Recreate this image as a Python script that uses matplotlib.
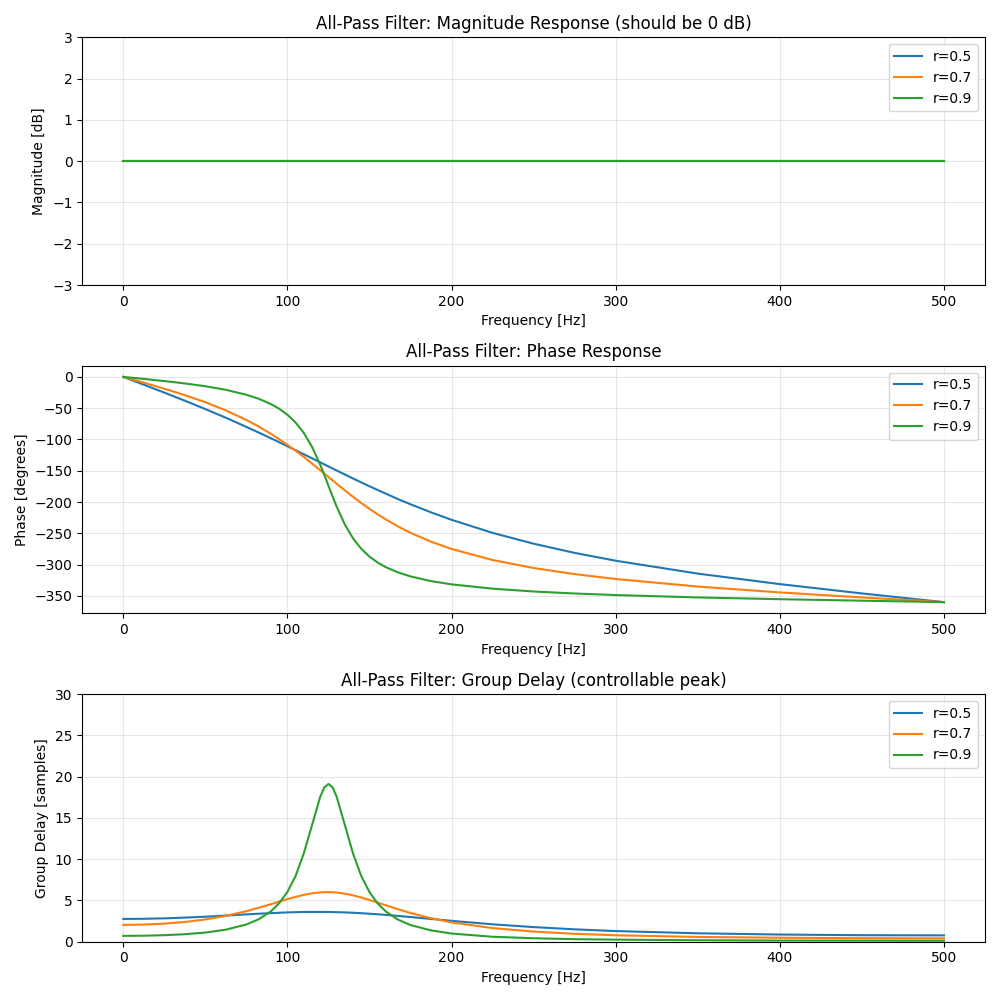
import matplotlib
matplotlib.use('Agg')
from matplotlib import pyplot as plt

# all-pass filter, notch/peak centred at 125 Hz (fs = 1000 Hz)
# values

radii = ['r=0.5', 'r=0.7', 'r=0.9']

freq = [0, 12.5, 25, 37.5, 50, 62.5, 75, 82.5, 90, 95, 100, 105, 110, 115, 120,
        122.5, 125, 127.5, 130, 135, 140, 145, 150, 155, 160, 167.5, 175, 187.5,
        200, 225, 250, 275, 300, 350, 400, 450, 500]

# magnitude is flat 0 dB for all radii
mag_freq = [0, 500]
mag_05 = [0.0, 0.0]
mag_07 = [0.0, 0.0]
mag_09 = [0.0, 0.0]

phase_05 = [0, -12.5, -25.1, -38.0, -51.4, -65.3, -79.9, -88.9, -98.2, -104.4,
            -110.8, -117.2, -123.7, -130.1, -136.6, -139.9, -143.1, -146.4, -149.6,
            -156.0, -162.4, -168.6, -174.8, -180.8, -186.7, -195.4, -203.6, -216.5,
            -228.4, -249.3, -266.6, -281.3, -293.8, -314.4, -331.2, -346.1, -360]
phase_07 = [0, -9.2, -18.8, -29.1, -40.5, -53.5, -68.9, -79.4, -91.1, -99.6,
            -108.6, -118.1, -128.1, -138.5, -149.2, -154.6, -160.0, -165.4, -170.8,
            -181.4, -191.7, -201.6, -210.9, -219.7, -227.9, -239.2, -249.2, -263.4,
            -275.0, -292.7, -305.5, -315.2, -323.0, -335.1, -344.5, -352.5, -360]
phase_09 = [0, -3.2, -6.6, -10.4, -14.9, -20.6, -28.5, -34.9, -43.5, -50.9,
            -60.5, -73.0, -89.7, -111.9, -140.5, -156.9, -174.0, -191.0, -207.4,
            -236.0, -258.2, -274.8, -287.3, -296.8, -304.2, -312.6, -318.9, -326.4,
            -331.6, -338.5, -343.0, -346.2, -348.7, -352.5, -355.3, -357.7, -360]

delay_05 = [2.76, 2.78, 2.83, 2.92, 3.03, 3.17, 3.31, 3.39, 3.46, 3.51,
            3.55, 3.58, 3.60, 3.61, 3.61, 3.61, 3.60, 3.59, 3.58,
            3.55, 3.51, 3.45, 3.39, 3.32, 3.25, 3.12, 2.99, 2.76,
            2.53, 2.11, 1.77, 1.50, 1.29, 1.02, 0.87, 0.79, 0.77]
delay_07 = [2.04, 2.08, 2.19, 2.39, 2.70, 3.13, 3.70, 4.11, 4.55, 4.86,
            5.16, 5.43, 5.68, 5.86, 5.98, 6.00, 6.01, 5.99, 5.96,
            5.82, 5.62, 5.35, 5.06, 4.73, 4.41, 3.93, 3.48, 2.85,
            2.34, 1.65, 1.23, 0.96, 0.78, 0.58, 0.48, 0.43, 0.41]
delay_09 = [0.71, 0.73, 0.79, 0.91, 1.11, 1.46, 2.09, 2.72, 3.69, 4.67,
            6.04, 7.97, 10.72, 14.13, 17.57, 18.69, 19.11, 18.69, 17.56,
            14.12, 10.66, 7.95, 6.00, 4.63, 3.65, 2.66, 2.02, 1.37,
            0.99, 0.60, 0.42, 0.31, 0.25, 0.18, 0.14, 0.13, 0.12]

fig, axs = plt.subplots(3, 1, figsize=(10, 10), dpi=100)

ax = axs[0]
for vals, lab in zip([mag_05, mag_07, mag_09], radii):
    ax.plot(mag_freq, vals, label=lab)
ax.set_title('All-Pass Filter: Magnitude Response (should be 0 dB)')
ax.set_xlabel('Frequency [Hz]')
ax.set_ylabel('Magnitude [dB]')
ax.set_xlim(-25, 525)
ax.set_ylim(-3, 3)
ax.grid(True, alpha=0.3)
ax.legend(loc='upper right')

ax = axs[1]
for vals, lab in zip([phase_05, phase_07, phase_09], radii):
    ax.plot(freq, vals, label=lab)
ax.set_title('All-Pass Filter: Phase Response')
ax.set_xlabel('Frequency [Hz]')
ax.set_ylabel('Phase [degrees]')
ax.grid(True, alpha=0.3)
ax.legend(loc='upper right')

ax = axs[2]
for vals, lab in zip([delay_05, delay_07, delay_09], radii):
    ax.plot(freq, vals, label=lab)
ax.set_title('All-Pass Filter: Group Delay (controllable peak)')
ax.set_xlabel('Frequency [Hz]')
ax.set_ylabel('Group Delay [samples]')
ax.set_ylim(0, 30)
ax.grid(True, alpha=0.3)
ax.legend(loc='upper right')

plt.tight_layout()
plt.savefig('out.png')
